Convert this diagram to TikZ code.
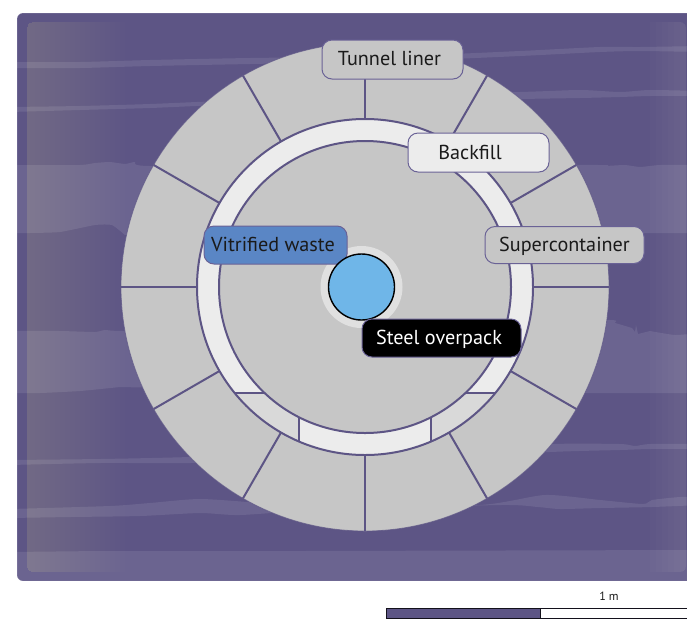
\documentclass[tikz,border=0pt]{standalone}
\usepackage{fontspec}
\setmainfont{PT Sans}
\definecolor{deep}{HTML}{5D5585}
\definecolor{edge}{HTML}{6A6296}
\definecolor{stone}{HTML}{C6C6C6}
\definecolor{pale}{HTML}{ECECEC}
\definecolor{seg}{HTML}{D9D9D9}
\definecolor{halo}{HTML}{E0E0E0}
\definecolor{core}{HTML}{6FB6E8}
\definecolor{vit}{HTML}{5A86C5}
\definecolor{ink}{HTML}{1A1A1A}
\tikzset{
  band/.style={fill=white,fill opacity=.09},
  rad/.style={draw=deep,line width=2pt},
  lab/.style={draw=edge,line width=1pt,rounded corners=10pt,inner sep=0pt,
    font=\fontsize{20.2}{22}\selectfont,text=ink,anchor=center,text height=17pt,text depth=4pt},
}
\begin{document}
\begin{tikzpicture}[x=1pt,y=-1pt]
\useasboundingbox (0,0) rectangle (687,638);
% background
\begin{scope}
  \path[clip,rounded corners=6pt] (17,13) rectangle (730,581);
  \fill[deep] (17,13) rectangle (730,581);
  % strata
  \fill[band] plot[smooth,tension=.4] coordinates {(10,62)(80,62)(150,60)(250,58)(400,56)(520,51)(600,47)(640,47)(700,46)}
    -- plot[smooth,tension=.4] coordinates {(700,52)(640,51)(600,52)(520,56)(400,61)(250,64)(150,66)(80,68)(10,68)} -- cycle;
  \fill[band] plot[smooth,tension=.4] coordinates {(10,107)(80,106)(150,104)(220,101)(300,98)(520,92)(580,90)(620,92)(650,90)(700,91)}
    -- plot[smooth,tension=.4] coordinates {(700,96)(650,96)(620,97)(580,98)(520,99)(300,103)(220,105)(150,108)(80,110)(10,112)} -- cycle;
  \fill[band] plot[smooth,tension=.3] coordinates {(10,165)(80,165)(95,163)(110,162)(125,164)(135,162)(150,166)(400,165)(600,165)(605,166)(625,165)(640,167)(660,165)(700,165)}
    -- (700,233) -- (660,233) -- (645,233) -- (640,235) -- (400,233)
    -- plot[smooth,tension=.3] coordinates {(125,235)(112,225)(95,225)(60,232)(30,233)(10,233)} -- cycle;
  \fill[band] plot[smooth,tension=.3] coordinates {(10,331)(60,331)(95,332)(105,330)(125,331)(300,330)(600,320)(615,323)(632,328)}
    -- (635,332) -- (636,325) -- (638,334)
    -- plot[smooth,tension=.3] coordinates {(650,331)(675,335)(700,333)}
    -- (700,393) -- (400,393)
    -- plot[smooth,tension=.3] coordinates {(120,387)(80,391)(40,393)(10,393)} -- cycle;
  \fill[band] plot[smooth,tension=.4] coordinates {(10,460)(100,459)(190,457)(400,450)(550,444)(620,444)(635,446)(650,444)(700,444)}
    -- plot[smooth,tension=.4] coordinates {(700,449)(650,449)(620,450)(550,452)(400,460)(190,463)(100,463)(10,465)} -- cycle;
  \fill[band] plot[smooth,tension=.4] coordinates {(10,509)(110,506)(150,503)(200,499)(260,503)(320,508)(480,505)(545,495)(600,500)(643,504)(652,500)(680,497)(700,497)}
    -- plot[smooth,tension=.4] coordinates {(700,505)(652,507)(600,508)(560,509)(538,507)(500,505)(320,510)(240,515)(200,513)(140,516)(70,517)(10,518)} -- cycle;
  \fill[band] (10,552) -- (100,551) -- (300,551) -- (700,550) -- (700,590) -- (10,590) -- cycle;
  % edge sheen of the inner panel
  \begin{scope}
    \path[clip,rounded corners=6pt] (27,22) rectangle (686,572);
    \foreach \sx in {30,35,...,125}{\fill[white,fill opacity=.0095] (20,15) rectangle (\sx,580);}
    \foreach \sx in {650,656,...,686}{\fill[white,fill opacity=.016] (\sx,15) rectangle (700,580);}
  \end{scope}
\end{scope}
\draw[color=white,opacity=.25,line width=.5pt,rounded corners=6pt] (17,13) rectangle (730,581);
% tunnel liner
\fill[stone] (365,287) circle[radius=244];
\draw[deep,line width=.8pt,opacity=.7] (365,287) circle[radius=244];
\foreach \a in {0,30,...,330}{\draw[rad] (365,287) ++(\a:168) -- ++(\a:76);}
% backfill ring and segments
\fill[pale] (365,287) circle[radius=168];
\begin{scope}
  \clip (365,287) circle[radius=168];
  \fill[seg] (190,393) rectangle (299,470);
  \fill[seg] (431,393) rectangle (540,470);
  \draw[rad] (190,393) -- (299,393) (299,393) -- (299,470);
  \draw[rad] (540,393) -- (431,393) (431,393) -- (431,470);
\end{scope}
\fill[stone] (365,287) circle[radius=146];
\draw[rad] (365,287) circle[radius=168];
\draw[rad] (365,287) circle[radius=146];
% waste package
\fill[halo] (361.5,287) circle[radius=41];
\node[lab,fill=vit,minimum width=143pt,minimum height=38pt] (vw) at (275.5,245) {Vitrified waste\kern5pt\null};
\draw[black,line width=1.4pt,fill=core] (361.5,287) circle[radius=33];
% labels
\node[lab,fill=stone,minimum width=141pt,minimum height=39pt,text height=15pt] (tl) at (392.5,59.5) {Tunnel liner\kern6pt\null};
\node[lab,fill=pale,minimum width=141pt,minimum height=39pt] (bf) at (478.5,152.5) {Backfill\kern17pt\null};
\node[lab,fill=stone,minimum width=159pt,minimum height=37pt] (sc) at (564.5,245) {Supercontainer};
\node[lab,fill=black,text=white,minimum width=159pt,minimum height=38pt] (so) at (441.5,338) {Steel overpack\kern5pt\null};
% scale bar
\draw[draw=black!80!deep,line width=1pt,fill=white] (386,608) rectangle (720,618);
\draw[draw=black!80!deep,line width=1pt,fill=deep] (386,608) rectangle (540,618);
\node[font=\fontsize{12}{14}\selectfont,text=ink,inner sep=0pt] (sl) at (609,596.5) {1 m};
\end{tikzpicture}
\end{document}
